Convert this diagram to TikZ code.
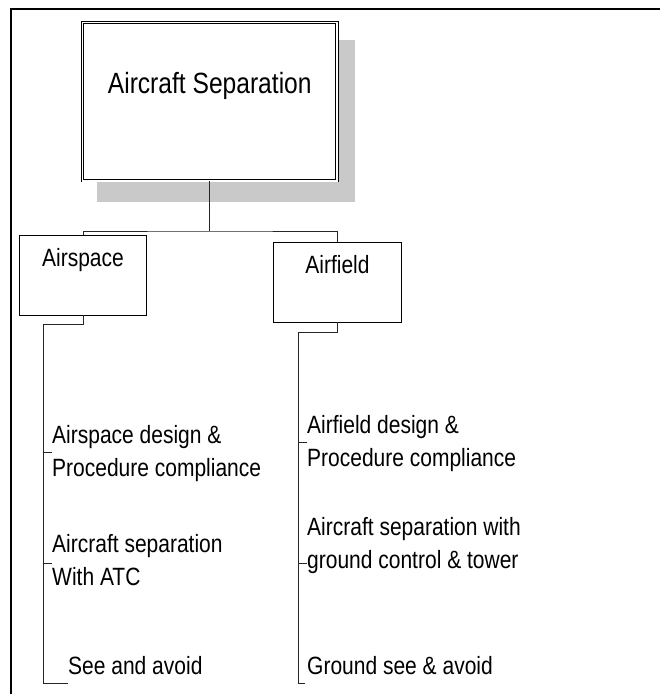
\documentclass[tikz,border=0pt]{standalone}
\usepackage{fontspec}
\setmainfont{Liberation Sans}
\newcommand\tallbox[1]{\scalebox{1}[1.19]{#1}}
\tikzset{
  conn/.style={line width=0.8pt, draw=black!85},
  topbox/.style={draw, fill=white, double, line width=0.7pt, double distance=1.7pt,
    inner sep=0pt, minimum width=254.5pt, text height=71pt, text depth=87.5pt,
    font=\fontsize{24.6}{30}\selectfont},
  subbox/.style={draw, line width=0.8pt, inner sep=0pt, minimum width=127.5pt,
    text height=32pt, text depth=48.5pt, font=\fontsize{21}{27}\selectfont},
  item/.style={inner sep=0pt, align=left, anchor=base west, yscale=1.19,
    font=\fontsize{21}{27}\selectfont},
}
\begin{document}
\begin{tikzpicture}[x=1pt,y=-1pt,line cap=rect]
  \useasboundingbox (0,0) rectangle (660,694);

  % Frame
  \draw[line width=2pt] (11,694) -- (11,9) -- (660,9);

  % Top box with shadow
  \fill[black!21] (97,40) rectangle (355,202);
  \node[topbox, anchor=north] (sep) at (209.75,22) {\tallbox{Aircraft Separation}};

  % Second level
  \node[subbox, anchor=north] (asp) at (83,234.5) {\tallbox{Airspace}};
  \node[subbox, anchor=north] (fld) at (337.5,241.5) {\tallbox{Airfield}};

  \coordinate (bus) at (209.75,231);
  \draw[conn] (sep.south) -- (bus);
  \draw[conn] (asp.north) |- (bus) -| (fld.north);

  % Airspace items (placed by the baseline of the last line)
  \node[item] (asp1) at (52,476) {Airspace design \&\\Procedure compliance};
  \node[item] (asp2) at (52,585) {Aircraft separation\\With ATC};
  \node[item] (asp3) at (68,674) {See and avoid};

  % Airfield items
  \node[item] (fld1) at (307,466) {Airfield design \&\\Procedure compliance};
  \node[item] (fld2) at (307,568) {Aircraft separation with\\ground control \& tower};
  \node[item] (fld3) at (307,674) {Ground see \& avoid};

  % Spines
  \coordinate (a0) at (43,324);
  \coordinate (a1) at (43,452);
  \coordinate (a2) at (43,563);
  \coordinate (a9) at (43,683);
  \coordinate (f0) at (298,332);
  \coordinate (f1) at (298,442);
  \coordinate (f2) at (298,563);
  \coordinate (f9) at (298,683);

  \draw[conn] (asp.south) |- (a0) -- (a9) -- (a9 -| asp3.west);
  \draw[conn] (fld.south) |- (f0) -- (f9) -- ++(7,0);
  \foreach \n in {1,2} {
    \draw[conn] (a\n) -- (a\n -| asp\n.west);
    \draw[conn] (f\n) -- (f\n -| fld\n.west);
  }
\end{tikzpicture}
\end{document}
